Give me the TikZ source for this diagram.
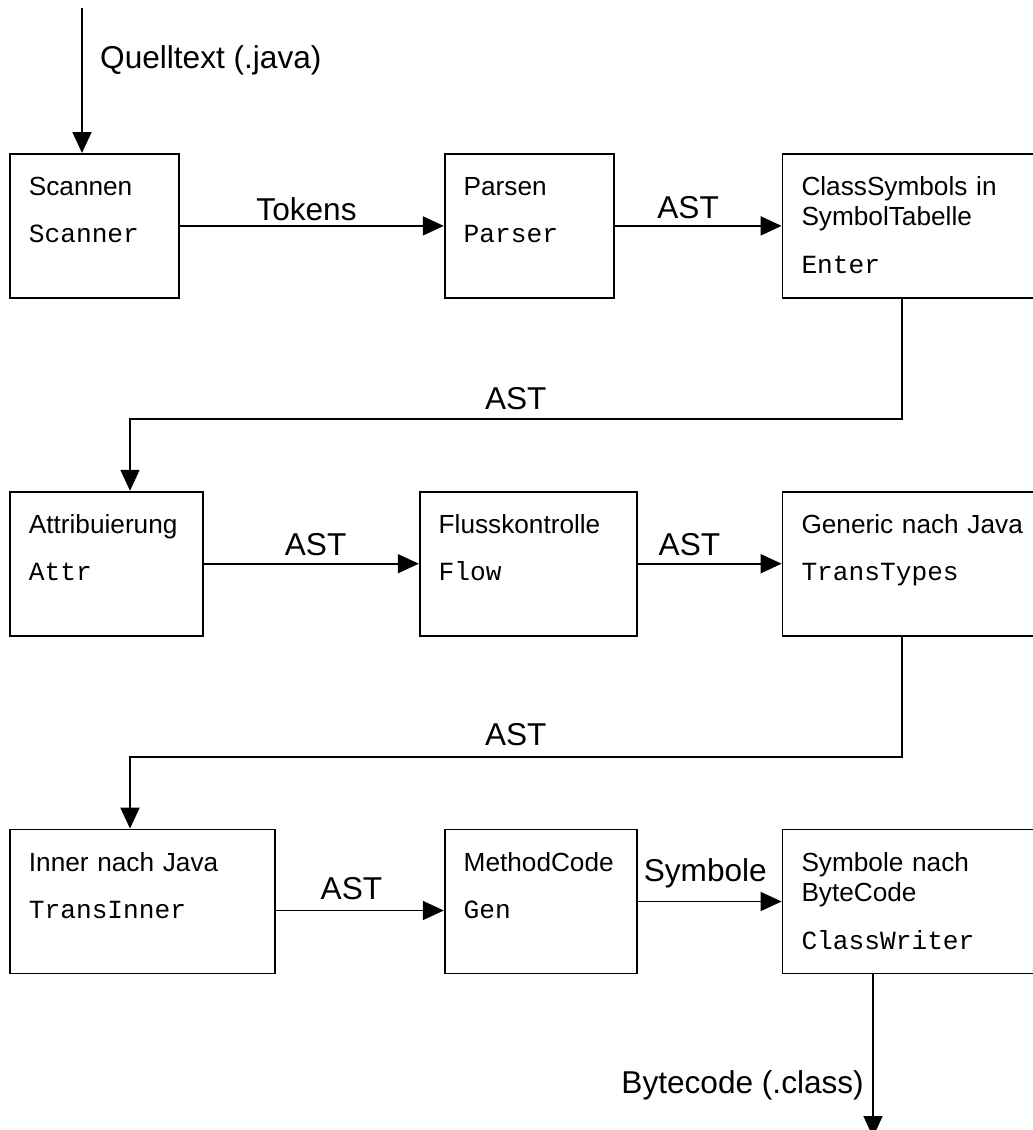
\documentclass[tikz,border=0pt]{standalone}
\usepackage{fontspec}
\setmainfont{Liberation Sans}
\setmonofont{Liberation Mono}
\usetikzlibrary{arrows.meta,positioning}
\newcommand{\boxfont}{\fontsize{26.2}{30}\selectfont}
\newcommand{\arrfont}{\fontsize{31.6}{36}\selectfont}

\begin{document}
\begin{tikzpicture}[
  x=1pt, y=-1pt,
  stage/.style={draw, line width=1.8pt, anchor=north west, align=left, inner xsep=19pt, inner ysep=15pt, text height=27pt, text depth=87pt, font=\boxfont},
  arr/.style={-{Triangle[length=21pt,width=19pt]}, line width=1.8pt},
  lbl/.style={font=\arrfont, inner sep=0pt, anchor=base, yshift=8pt}
]
\useasboundingbox (0,0) rectangle (1033,1130);
\clip (0,0) rectangle (1033,1130);

\node[stage, text width=131pt] (scan) at (9,153) {Scannen\\[17pt]\ttfamily Scanner};
\node[stage, text width=131pt, right=264pt of scan] (parse) {Parsen\\[17pt]\ttfamily Parser};
\node[stage, text width=224pt, right=167pt of parse] (enter) {ClassSymbols in\\SymbolTabelle\\[18pt]\ttfamily Enter};

\node[stage, text width=155pt, below=192pt of scan.south west, anchor=north west] (attr) {Attribuierung\\[17pt]\ttfamily Attr};
\node[stage, text width=179pt, right=215pt of attr] (flow) {Flusskontrolle\\[17pt]\ttfamily Flow};
\node[stage, text width=224pt, right=144pt of flow] (trans) {Generic nach Java\\[17pt]\ttfamily TransTypes};

\node[stage, text width=227pt, below=192pt of attr.south west, anchor=north west] (inner) {Inner nach Java\\[17pt]\ttfamily TransInner};
\node[stage, text width=154pt, right=168pt of inner] (gen) {MethodCode\\[17pt]\ttfamily Gen};
\node[stage, text width=224pt, right=144pt of gen] (write) {Symbole nach\\ByteCode\\[18pt]\ttfamily ClassWriter};

% input and output
\coordinate (srcend) at (82,8);
\coordinate (outend) at (873,1137);
\draw[arr] (srcend) -- (srcend |- scan.north);
\node[font=\arrfont, inner sep=0pt, anchor=base west] (srclbl) at (100,68) {Quelltext (.java)};
\draw[arr] (outend |- write.south) -- (outend);
\node[font=\arrfont, inner sep=0pt, anchor=base east] (outlbl) at (864,1093) {Bytecode (.class)};

\draw[arr] (scan) -- (parse) node[lbl, pos=0.48, yshift=-3pt] {Tokens};
\draw[arr] (parse) -- (enter) node[lbl, pos=0.44, yshift=-1pt] {AST};
\draw[arr] ([xshift=120pt]enter.south west) -- ++(0,120) -| ([xshift=121pt]attr.north west) node[lbl, pos=0.25, yshift=1pt] {AST};

\draw[arr] (attr) -- (flow) node[lbl, pos=0.52] {AST};
\draw[arr] (flow) -- (trans) node[lbl, pos=0.36] {AST};
\draw[arr] ([xshift=120pt]trans.south west) -- ++(0,120) -| ([xshift=121pt]inner.north west) node[lbl, pos=0.25, yshift=3pt] {AST};

\draw[arr] ([yshift=-9pt]inner.east) -- ([yshift=-9pt]gen.west) node[lbl, pos=0.45, yshift=3pt] {AST};
\draw[arr] (gen) -- (write) node[lbl, pos=0.47, yshift=12pt] {Symbole};

\end{tikzpicture}
\end{document}
